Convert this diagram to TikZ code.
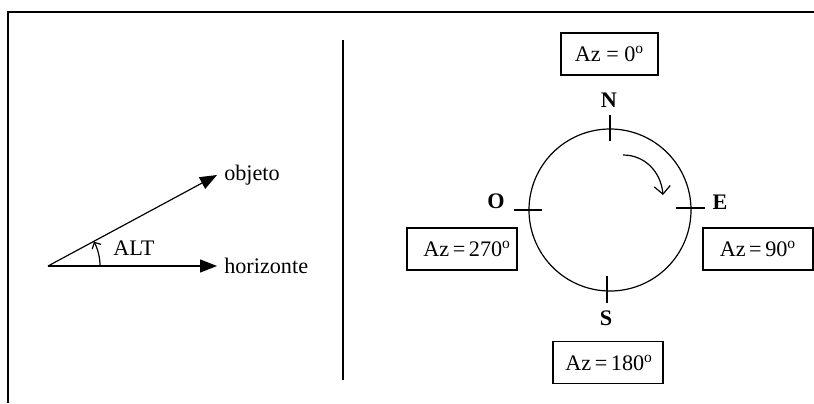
\documentclass[tikz,border=0pt]{standalone}
\usepackage{fontspec}
\setmainfont{Liberation Serif}
\usetikzlibrary{arrows.meta, positioning}

\newcommand{\azval}[1]{Az\hspace{0.16em}=\hspace{0.16em}#1\textsuperscript{o}}

\tikzset{
  azbox/.style = {draw, minimum height=21pt, inner xsep=4pt},
  cardinal/.style = {font=\fontsize{11.1}{13}\selectfont\bfseries},
}

\begin{document}
\begin{tikzpicture} [x=0.5pt, y=-0.5pt, line width=0.6pt, font=\fontsize{11.1}{13}\selectfont]
        \useasboundingbox (0,0) rectangle (814,403);
        \draw (7,12) -- (814,12);
        \draw (8,12) -- (8,403);
        \draw (343,40) -- (343,380);

        % altura
        \coordinate (o) at (48,266);
        \node (obj) [anchor=west] at (217,175) {objeto};
        \node (hor) [anchor=west] at (217,266) {horizonte};
        \path [-{Triangle[length=8.5pt, width=6.5pt]}] (o) edge (obj.west);
        \path [-{Triangle[length=8.5pt, width=6.5pt]}] (o) edge (hor.west);
        \draw [-{Straight Barb[length=2.5pt, width=5pt]}] (100,266) arc [start angle=0, end angle=-28, radius=52];
        \node (alt) [anchor=west] at (106,248) {ALT};

        % azimut
        \node (dial) [draw, circle, minimum size=81pt, inner sep=0pt] at (610,210) {};
        \draw (dial.north) ++(0,-13) -- ++(0,26);
        \draw (dial.east) ++(-16,-2) -- ++(29,0);
        \draw (dial.west) ++(-14,0) -- ++(28,0);
        \draw (dial.south) ++(-3,-16) -- ++(0,27);

        \node (n) [cardinal] at (609,100) {N};
        \node (e) [cardinal] at (720,202) {E};
        \node (w) [cardinal] at (496,201) {O};
        \node (s) [cardinal] at (606,318) {S};

        \draw [-{Straight Barb[length=4pt, width=8pt]}] (623,155) .. controls (645,155) and (661,172) .. (663,195);

        \node (az0) [azbox, minimum width=48.5pt] at (609.5,54) {Az = 0\textsuperscript{o}};
        \node (az90) [azbox, minimum width=55pt] at (758,249) {\azval{90}};
        \node (az270) [azbox, text width=49pt, inner xsep=3pt, align=right] at (462,249) {\azval{270}};
        \node (az180) [azbox, text width=45pt, inner xsep=5pt, align=right] at (608,362.5) {\azval{180}};
    \end{tikzpicture}
\end{document}
